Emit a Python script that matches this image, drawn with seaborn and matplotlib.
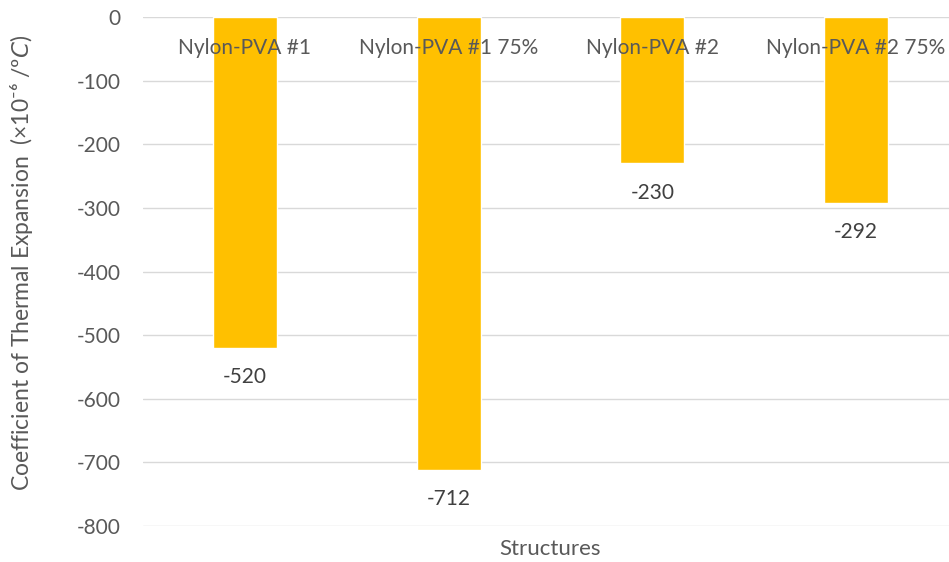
import matplotlib
matplotlib.use("Agg")
import matplotlib.pyplot as plt
import seaborn as sns
import pandas as pd

structures = ["Nylon-PVA #1", "Nylon-PVA #1 75%", "Nylon-PVA #2", "Nylon-PVA #2 75%"]
cte_values = [-520, -712, -230, -292]
y_ticks = [0, -100, -200, -300, -400, -500, -600, -700, -800]

sns.set_theme(style="white")
plt.rcParams["font.family"] = ["Lato", "DejaVu Sans"]

TEXT = "#595959"
BAR = "#FFC000"
GRID = "#D9D9D9"

df = pd.DataFrame({"Structure": structures, "CTE": cte_values})

fig = plt.figure(figsize=(9.49, 5.62), dpi=100)
W, H = 949, 562
left, right, top, bottom = 143, 949, 17, 526
ax = fig.add_axes([left / W, 1 - bottom / H, (right - left) / W, (bottom - top) / H])

sns.barplot(data=df, x="Structure", y="CTE", color=BAR, width=0.314,
            saturation=1, ax=ax)

step = (958 - 143) / 4
ax.set_xlim(-0.5, -0.5 + (right - left) / step)
ax.set_ylim(-800, 0)
ax.set_yticks(y_ticks)
ax.set_yticklabels([str(v) for v in y_ticks], color=TEXT, fontsize=15)
ax.tick_params(axis="y", length=0, pad=16)
ax.set_xticks([])
ax.yaxis.grid(True, color=GRID, linewidth=1)
ax.set_axisbelow(True)
for s in ax.spines.values():
    s.set_visible(False)

# category names sit just under the zero line
for i, name in enumerate(structures):
    ax.annotate(name, xy=(i, 0), xytext=(0, -22), textcoords="offset points",
                ha="center", va="center", color=TEXT, fontsize=15)

# value labels below each bar end
for i, v in enumerate(cte_values):
    ax.annotate(str(v), xy=(i, v), xytext=(0, -21), textcoords="offset points",
                ha="center", va="center", color="#404040", fontsize=15)

ax.set_xlabel("")
ax.set_ylabel("")
fig.text(550 / W, 1 - 549 / H, "Structures", ha="center", va="center",
         color=TEXT, fontsize=16)
fig.text(22 / W, 1 - 263 / H, r"Coefficient of Thermal Expansion  (×10⁻⁶ /º$\mathit{C}$)",
         ha="center", va="center", rotation=90, color=TEXT, fontsize=16.5)

fig.savefig("out.png", dpi=100)
